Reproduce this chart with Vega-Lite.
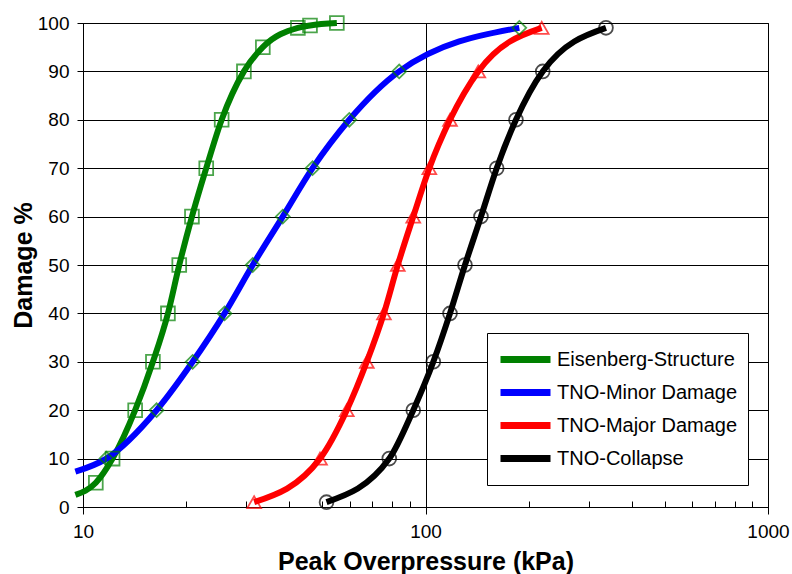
{
  "$schema": "https://vega.github.io/schema/vega-lite/v6.json",
  "width": 685,
  "height": 484,
  "autosize": "none",
  "padding": {"left": 83, "top": 23, "right": 24, "bottom": 67},
  "background": "white",
  "config": {
    "font": "Liberation Sans",
    "view": {"stroke": "black", "strokeWidth": 1},
    "axis": {
      "domainColor": "black",
      "tickColor": "black",
      "gridColor": "black",
      "gridOpacity": 1,
      "labelColor": "black",
      "titleColor": "black",
      "labelFont": "Liberation Sans",
      "titleFont": "Liberation Sans",
      "labelFontSize": 19,
      "titleFontSize": 25,
      "titleFontWeight": "bold",
      "labelFlush": false,
      "labelOverlap": false
    },
    "legend": {
      "orient": "none",
      "legendX": 404,
      "legendY": 310,
      "padding": 10,
      "strokeColor": "black",
      "fillColor": "white",
      "labelFont": "Liberation Sans",
      "labelFontSize": 20,
      "labelColor": "black",
      "symbolType": "stroke",
      "symbolSize": 2500,
      "symbolStrokeWidth": 7,
      "clipHeight": 33,
      "rowPadding": 0,
      "labelOffset": 3,
      "labelLimit": 300
    }
  },
  "data": {
    "values": [
      {"s": "Eisenberg-Structure", "p": 9.5, "d": 2.5},
      {"s": "Eisenberg-Structure", "p": 10.9, "d": 5},
      {"s": "Eisenberg-Structure", "p": 12.2, "d": 10},
      {"s": "Eisenberg-Structure", "p": 14.2, "d": 20},
      {"s": "Eisenberg-Structure", "p": 16.0, "d": 30},
      {"s": "Eisenberg-Structure", "p": 17.7, "d": 40},
      {"s": "Eisenberg-Structure", "p": 19.1, "d": 50},
      {"s": "Eisenberg-Structure", "p": 20.8, "d": 60},
      {"s": "Eisenberg-Structure", "p": 22.9, "d": 70},
      {"s": "Eisenberg-Structure", "p": 25.4, "d": 80},
      {"s": "Eisenberg-Structure", "p": 29.5, "d": 90},
      {"s": "Eisenberg-Structure", "p": 33.5, "d": 95},
      {"s": "Eisenberg-Structure", "p": 42.4, "d": 99},
      {"s": "Eisenberg-Structure", "p": 46.0, "d": 99.5},
      {"s": "Eisenberg-Structure", "p": 55.1, "d": 100},
      {"s": "TNO-Minor Damage", "p": 9.5, "d": 7.3},
      {"s": "TNO-Minor Damage", "p": 11.7, "d": 10},
      {"s": "TNO-Minor Damage", "p": 16.4, "d": 20},
      {"s": "TNO-Minor Damage", "p": 20.9, "d": 30},
      {"s": "TNO-Minor Damage", "p": 25.9, "d": 40},
      {"s": "TNO-Minor Damage", "p": 31.3, "d": 50},
      {"s": "TNO-Minor Damage", "p": 38.3, "d": 60},
      {"s": "TNO-Minor Damage", "p": 46.8, "d": 70},
      {"s": "TNO-Minor Damage", "p": 59.9, "d": 80},
      {"s": "TNO-Minor Damage", "p": 83.8, "d": 90},
      {"s": "TNO-Minor Damage", "p": 187.9, "d": 99},
      {"s": "TNO-Major Damage", "p": 31.6, "d": 1},
      {"s": "TNO-Major Damage", "p": 49.2, "d": 10},
      {"s": "TNO-Major Damage", "p": 58.9, "d": 20},
      {"s": "TNO-Major Damage", "p": 67.4, "d": 30},
      {"s": "TNO-Major Damage", "p": 75.6, "d": 40},
      {"s": "TNO-Major Damage", "p": 83.0, "d": 50},
      {"s": "TNO-Major Damage", "p": 92.1, "d": 60},
      {"s": "TNO-Major Damage", "p": 102.6, "d": 70},
      {"s": "TNO-Major Damage", "p": 117.9, "d": 80},
      {"s": "TNO-Major Damage", "p": 142.6, "d": 90},
      {"s": "TNO-Major Damage", "p": 218.4, "d": 99},
      {"s": "TNO-Collapse", "p": 51.4, "d": 1},
      {"s": "TNO-Collapse", "p": 78.4, "d": 10},
      {"s": "TNO-Collapse", "p": 92.1, "d": 20},
      {"s": "TNO-Collapse", "p": 105.4, "d": 30},
      {"s": "TNO-Collapse", "p": 117.9, "d": 40},
      {"s": "TNO-Collapse", "p": 130.4, "d": 50},
      {"s": "TNO-Collapse", "p": 145.2, "d": 60},
      {"s": "TNO-Collapse", "p": 161.4, "d": 70},
      {"s": "TNO-Collapse", "p": 183.7, "d": 80},
      {"s": "TNO-Collapse", "p": 219.9, "d": 90},
      {"s": "TNO-Collapse", "p": 336.5, "d": 99}
    ]
  },
  "layer": [
    {
      "mark": {"type": "line", "strokeWidth": 6, "interpolate": "monotone", "clip": false},
      "encoding": {
        "x": {
          "field": "p", "type": "quantitative",
          "scale": {"type": "log", "domain": [10, 1000]},
          "axis": {
            "orient": "bottom",
            "values": [10, 100, 1000],
            "format": "d",
            "grid": true,
            "tickSize": 7,
            "labelPadding": 8,
            "title": "Peak Overpressure (kPa)",
            "titleBaseline": "alphabetic",
            "titleY": 62
          }
        },
        "y": {
          "field": "d", "type": "quantitative",
          "scale": {"domain": [0, 100]},
          "axis": {
            "values": [0, 10, 20, 30, 40, 50, 60, 70, 80, 90, 100],
            "grid": true,
            "tickSize": 6,
            "labelPadding": 8,
            "title": "Damage %",
            "titlePadding": 1
          }
        },
        "color": {
          "field": "s", "type": "nominal",
          "scale": {
            "domain": ["Eisenberg-Structure", "TNO-Minor Damage", "TNO-Major Damage", "TNO-Collapse"],
            "range": ["#008000", "#0000ff", "#ff0000", "#000000"]
          },
          "legend": {
            "title": null,
            "symbolType": "stroke",
            "encode": {
              "symbols": {
                "update": {
                  "shape": {"value": "stroke"},
                  "size": {"value": 2500},
                  "strokeWidth": {"value": 7},
                  "fill": {"value": "transparent"}
                }
              }
            }
          }
        }
      }
    },
    {
      "transform": [{"filter": "datum.p >= 10"}],
      "mark": {"type": "point", "filled": false, "strokeWidth": 1.8, "size": 190},
      "encoding": {
        "x": {
          "field": "p", "type": "quantitative",
          "scale": {"type": "log", "domain": [10, 1000]},
          "axis": {
            "orient": "bottom",
            "values": [20, 30, 40, 50, 60, 70, 80, 90, 200, 300, 400, 500, 600, 700, 800, 900],
            "labels": false,
            "domain": false,
            "grid": false,
            "tickSize": -6,
            "title": null
          }
        },
        "y": {"field": "d", "type": "quantitative"},
        "shape": {
          "field": "s", "type": "nominal",
          "scale": {
            "domain": ["Eisenberg-Structure", "TNO-Minor Damage", "TNO-Major Damage", "TNO-Collapse"],
            "range": ["square", "diamond", "triangle-up", "circle"]
          },
          "legend": null
        },
        "stroke": {
          "field": "s", "type": "nominal",
          "scale": {
            "domain": ["Eisenberg-Structure", "TNO-Minor Damage", "TNO-Major Damage", "TNO-Collapse"],
            "range": ["#008000", "#008000", "#ff0000", "#000000"]
          },
          "legend": null
        }
      }
    }
  ],
  "resolve": {
    "axis": {"x": "independent"},
    "scale": {"stroke": "independent"},
    "legend": {"shape": "independent", "stroke": "independent"}
  }
}
